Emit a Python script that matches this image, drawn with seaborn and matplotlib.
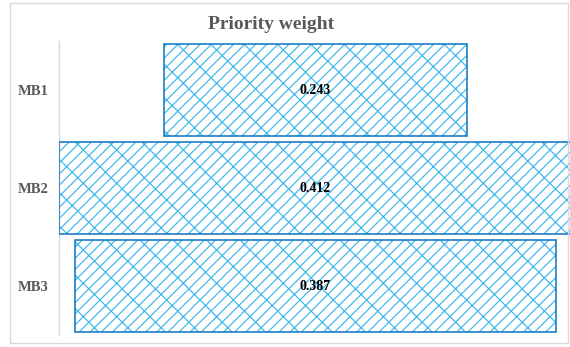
import matplotlib
matplotlib.use("Agg")
import matplotlib.pyplot as plt
import seaborn as sns
import pandas as pd
from matplotlib.patches import Rectangle

# Priority weight per block
categories = ["MB1", "MB2", "MB3"]
weights = [0.243, 0.412, 0.387]

sns.set_theme(style="white")
plt.rcParams["font.family"] = ["Liberation Serif", "DejaVu Serif"]
plt.rcParams["hatch.linewidth"] = 0.9

W, H = 570, 347
fig = plt.figure(figsize=(W / 100, H / 100), dpi=100)
ax = fig.add_axes([59 / W, 1 - 335 / H, 513 / W, (335 - 41) / H])

df = pd.DataFrame({"block": categories, "weight": weights})
sns.barplot(data=df, x="weight", y="block", orient="h", width=0.94,
            color="white", ax=ax)

# Centre each bar on zero to form a funnel, with a patterned fill
hatch_col = "#45B9EE"
edge_col = "#1E7CC4"
for p, w in zip(ax.patches, weights):
    p.set_x(-w / 2)
    p.set_facecolor("white")
    p.set_hatch("///\\")
    p.set_edgecolor(hatch_col)
    p.set_linewidth(0)
    ax.add_patch(Rectangle((p.get_x(), p.get_y()), p.get_width(), p.get_height(),
                           fill=False, edgecolor=edge_col, linewidth=1.2, zorder=3))

ax.bar_label(ax.containers[0], labels=[f"{w:.3f}" for w in weights],
             label_type="center", fontsize=10, fontweight="bold", color="black",
             zorder=4)

ax.set_xlim(-0.206, 0.206)
ax.set_xlabel("")
ax.set_ylabel("")
ax.set_xticks([])
ax.tick_params(axis="y", length=0, pad=7.5, labelsize=10.5, labelcolor="#595959")
for lbl in ax.get_yticklabels():
    lbl.set_fontweight("bold")
for side in ["top", "right", "bottom"]:
    ax.spines[side].set_visible(False)
ax.spines["left"].set_color("#D9D9D9")
ax.spines["left"].set_linewidth(1.0)

fig.text(271.5 / W, 1 - 24.5 / H, "Priority weight", ha="center", va="center",
         fontsize=14, fontweight="bold", color="#595959")

fig.add_artist(Rectangle((10 / W, 1 - 343 / H), 558 / W, 340 / H,
                         transform=fig.transFigure, fill=False,
                         edgecolor="#D9D9D9", linewidth=1.0))

fig.savefig("out.png", dpi=100)
